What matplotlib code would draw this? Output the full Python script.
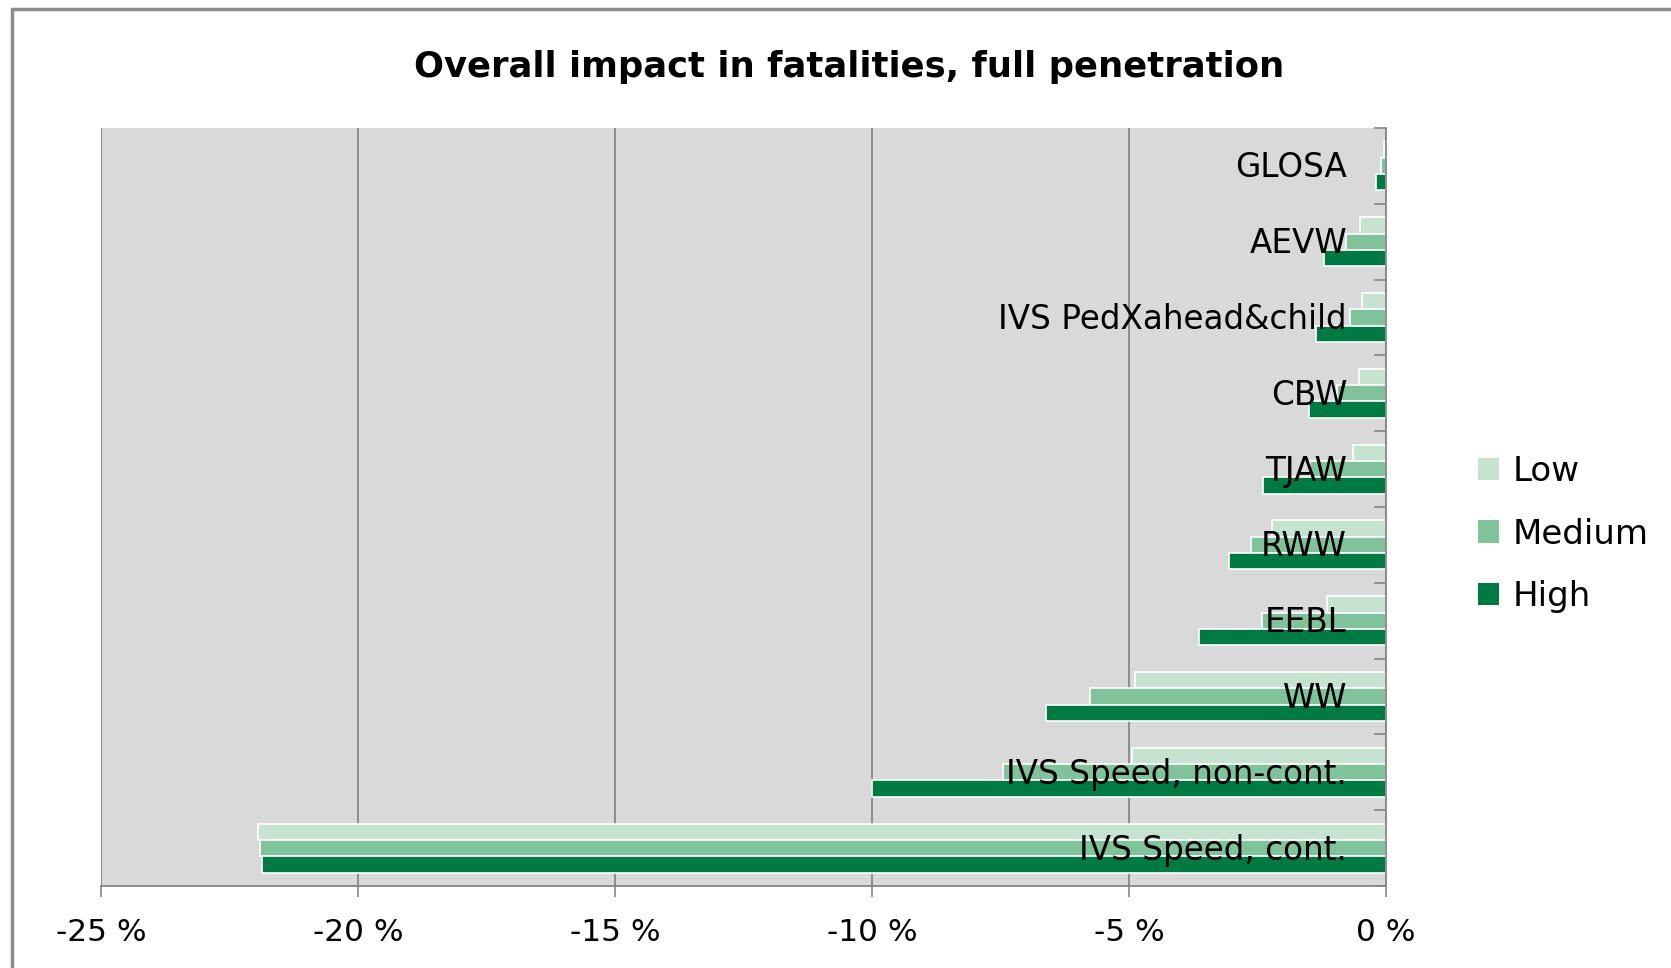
import matplotlib
matplotlib.use("Agg")
import matplotlib.pyplot as plt
import numpy as np
from matplotlib.patches import Rectangle, Patch

categories = ["GLOSA", "AEVW", "IVS PedXahead&child", "CBW", "TJAW",
              "RWW", "EEBL", "WW", "IVS Speed, non-cont.", "IVS Speed, cont."]
low = [-0.03, -0.50, -0.47, -0.53, -0.64, -2.22, -1.15, -4.88, -4.95, -21.95]
medium = [-0.10, -0.78, -0.70, -0.96, -1.48, -2.63, -2.41, -5.75, -7.45, -21.90]
high = [-0.19, -1.20, -1.36, -1.49, -2.40, -3.06, -3.64, -6.62, -10.00, -21.87]
series_names = ["Low", "Medium", "High"]
colors = ["#c6e2d0", "#80c39b", "#007a43"]
xticks = [-25, -20, -15, -10, -5, 0]
xtick_labels = ["-25 %", "-20 %", "-15 %", "-10 %", "-5 %", "0 %"]

plt.rcParams['font.family'] = ['DejaVu Sans']

W, H = 1671, 968
fig = plt.figure(figsize=(W / 100, H / 100), dpi=100)
fig.patch.set_facecolor("white")

# outer chart frame (cut off at right and bottom like the screenshot)
fig.patches.append(Rectangle((12 / W, -0.2), 2.0, 1 - 9 / H + 0.2,
                             transform=fig.transFigure, fill=False,
                             edgecolor="#8c8c8c", linewidth=2.5))

ax = fig.add_axes([101 / W, 1 - 886 / H, (1386 - 101) / W, (886 - 128) / H])
ax.set_facecolor("#d9d9d9")

y = np.arange(len(categories))
h = 0.215
for vals, off, c, name in zip([low, medium, high], [-h, 0, h], colors, series_names):
    ax.barh(y + off, vals, height=h, color=c, edgecolor="white",
            linewidth=1.2, label=name, zorder=3)

ax.set_xlim(-25, 0)
ax.set_ylim(len(categories) - 0.5, -0.5)

ax.set_xticks(xticks, xtick_labels)
ax.grid(axis="x", color="#868686", linewidth=1.3, zorder=1)
ax.tick_params(axis="x", length=8, width=1.2, color="#868686", pad=15,
               labelsize=22.5)

# category axis sits at x = 0
ax.spines["left"].set_position(("data", 0))
ax.spines["left"].set_color("#868686")
ax.spines["left"].set_linewidth(1.3)
ax.spines["left"].set_zorder(4)
ax.spines["bottom"].set_color("#868686")
ax.spines["bottom"].set_linewidth(1.3)
ax.spines["top"].set_visible(False)
ax.spines["right"].set_visible(False)

ax.set_yticks([])
ax.set_yticks(np.arange(-0.5, len(categories)), minor=True)
ax.tick_params(axis="y", which="minor", length=9, width=1.2, color="#868686")

# category labels drawn over the bars
for yi, name in zip(y, categories):
    ax.annotate(name, xy=(0, yi), xytext=(-28, -1.5), textcoords="offset points",
                ha="right", va="center", fontsize=23.5, zorder=10)

fig.text(849 / W, 1 - 67 / H, "Overall impact in fatalities, full penetration",
         ha="center", va="center", fontsize=25.5, fontweight="bold")

handles = [Patch(facecolor=c, edgecolor="none") for c in colors]
fig.legend(handles, series_names, loc="center left",
           bbox_to_anchor=(1478 / W, 1 - 534 / H), frameon=False,
           fontsize=24.5, handlelength=0.62, handleheight=0.62,
           handletextpad=0.4, labelspacing=0.88, borderpad=0, borderaxespad=0)

fig.savefig("out.png", dpi=100)
